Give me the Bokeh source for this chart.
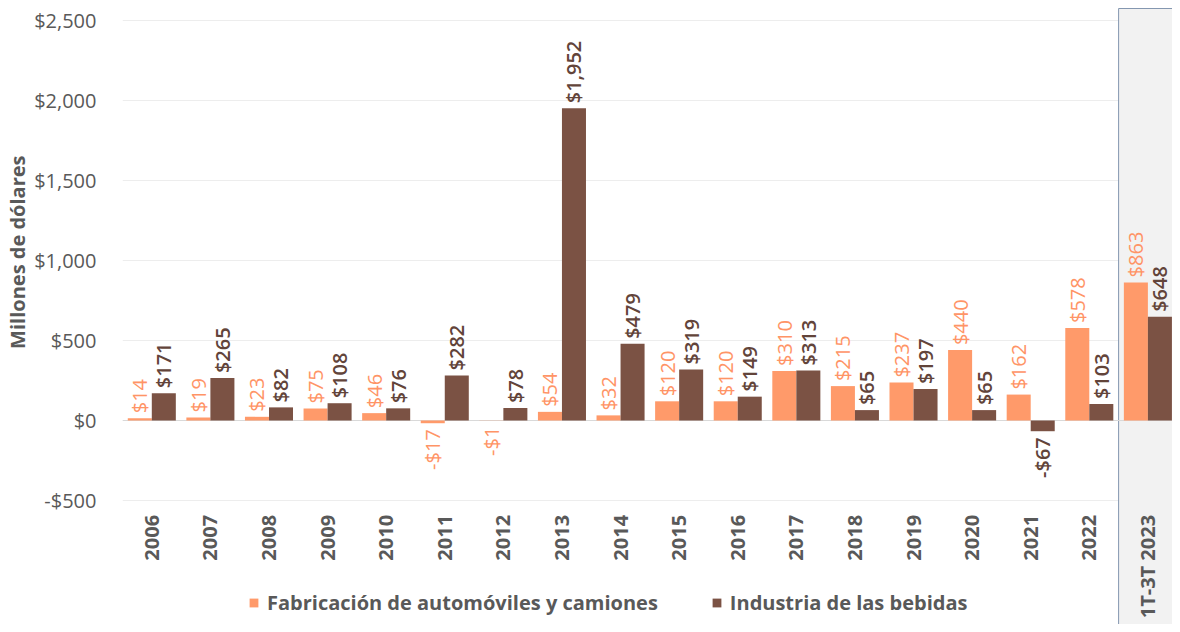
import math
from bokeh.plotting import figure
from bokeh.models import (ColumnDataSource, Range1d, FixedTicker, NumeralTickFormatter,
                          Legend, LegendItem, Title)
from bokeh.transform import dodge
from bokeh.core.properties import value
from bokeh.embed import file_html
from bokeh.resources import INLINE

categories = ["2006", "2007", "2008", "2009", "2010", "2011", "2012", "2013", "2014",
              "2015", "2016", "2017", "2018", "2019", "2020", "2021", "2022", "1T-3T 2023"]
autos = [14, 19, 23, 75, 46, -17, -1, 54, 32, 120, 120, 310, 215, 237, 440, 162, 578, 863]
bebidas = [171, 265, 82, 108, 76, 282, 78, 1952, 479, 319, 149, 313, 65, 197, 65, -67, 103, 648]
y_ticks = [-500, 0, 500, 1000, 1500, 2000, 2500]
series_names = ["Fabricación de automóviles y camiones", "Industria de las bebidas"]
y_title = "Millones de dólares"

ORANGE = "#FF9A6A"
BROWN = "#7B5244"
ORANGE_TXT = "#FF9466"
BROWN_TXT = "#62443A"
GRAY = "#595959"
FONT = "Open Sans"
SEMI = "Open Sans SemiBold, Open Sans"


def money(v):
    return ("-$" if v < 0 else "$") + f"{abs(v):,}"


xs = [i + 0.5 for i in range(len(categories))]
src = ColumnDataSource(dict(x=xs, cat=categories, autos=autos, bebidas=bebidas))


def label_sources(vals):
    pos = dict(x=[], y=[], t=[])
    neg = dict(x=[], y=[], t=[])
    for xv, v in zip(xs, vals):
        d = pos if v >= 0 else neg
        d["x"].append(xv)
        d["y"].append(v)
        d["t"].append(money(v))
    return ColumnDataSource(pos), ColumnDataSource(neg)


p = figure(width=1172, height=624,
           x_range=Range1d(0, 17.92), y_range=Range1d(-1275, 2625),
           output_backend="svg", toolbar_location=None, x_axis_location=None,
           min_border_left=120, min_border_right=0, min_border_top=0, min_border_bottom=0)
p.outline_line_color = None
p.background_fill_color = "white"
p.xgrid.visible = False
p.ygrid.grid_line_color = "#EDEDED"
p.ygrid.grid_line_width = 1

yaxis = p.yaxis[0]
yaxis.ticker = FixedTicker(ticks=y_ticks)
yaxis.formatter = NumeralTickFormatter(format="$0,0")
yaxis.axis_line_color = None
yaxis.major_tick_line_color = None
yaxis.minor_tick_line_color = None
yaxis.major_label_text_font = FONT
yaxis.major_label_text_font_size = "20px"
yaxis.major_label_text_color = GRAY
yaxis.major_label_standoff = 20

p.add_layout(Title(text=y_title, align="right", offset=155,
                   text_font=FONT, text_font_size="20px", text_font_style="bold",
                   text_color=GRAY, standoff=2), "left")

# shaded panel for the partial-year category
n = len(categories)
p.quad(left=[n - 1], right=[n + 1], bottom=[-3000], top=[2575],
       fill_color="#F2F2F2", line_color="#8497B0", line_width=1)

# zero line
p.hspan(y=[0], line_color="#D9D9D9", line_width=1)

bw = 0.41
r1 = p.vbar(x=dodge("x", -bw / 2, range=p.x_range), top="autos", bottom=0, width=bw,
            source=src, fill_color=ORANGE, line_color=None)
r2 = p.vbar(x=dodge("x", bw / 2, range=p.x_range), top="bebidas", bottom=0, width=bw,
            source=src, fill_color=BROWN, line_color=None)

for vals, off, col, font in [(autos, -bw / 2, ORANGE_TXT, FONT),
                             (bebidas, bw / 2, BROWN_TXT, SEMI)]:
    ps, ns = label_sources(vals)
    common = dict(angle=math.pi / 2, text_baseline="middle", text_color=col,
                  text_font=value(font), text_font_size="20px")
    p.text(x=dodge("x", off, range=p.x_range), y="y", text="t", source=ps,
           text_align="left", y_offset=-5, **common)
    p.text(x=dodge("x", off, range=p.x_range), y="y", text="t", source=ns,
           text_align="right", y_offset=6, **common)

# category labels
p.text(x="x", y=-590, text="cat", source=src, angle=math.pi / 2,
       text_align="right", text_baseline="middle", text_color=GRAY,
       text_font=value(FONT), text_font_size="20px", text_font_style="bold")

legend = Legend(items=[LegendItem(label=series_names[0], renderers=[r1]),
                       LegendItem(label=series_names[1], renderers=[r2])],
                orientation="horizontal", location=(126, 8),
                border_line_color=None, background_fill_alpha=0,
                label_text_font=FONT, label_text_font_style="bold",
                label_text_font_size="20px", label_text_color=GRAY,
                glyph_width=11, glyph_height=11, label_standoff=8, spacing=53,
                padding=0, margin=0)
p.add_layout(legend)

open("out.html", "w").write(file_html(p, INLINE))
